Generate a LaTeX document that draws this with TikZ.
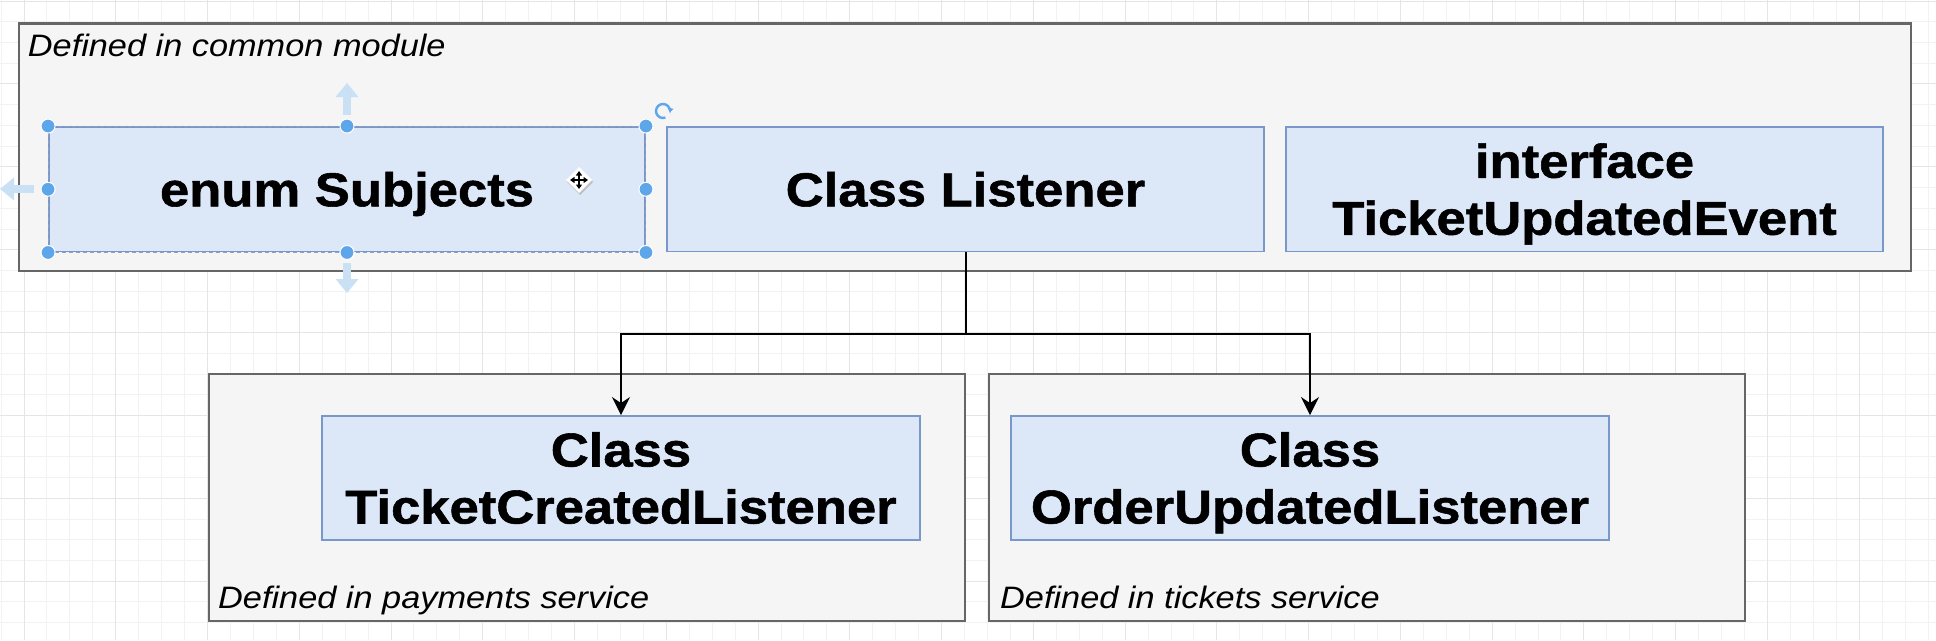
\documentclass[tikz,border=0pt]{standalone}
\usepackage{fontspec}
\newfontfamily\lab{Liberation Sans}[FakeStretch=1.107, BoldFeatures={FakeBold=1.2}]
\usetikzlibrary{arrows.meta}
\definecolor{gridminor}{HTML}{F2F2F2}
\definecolor{gridmajor}{HTML}{E5E5E5}
\definecolor{ofill}{HTML}{F5F5F5}
\definecolor{ostroke}{HTML}{666666}
\definecolor{ifill}{HTML}{DCE7F8}
\definecolor{istroke}{HTML}{7A97C9}
\definecolor{handle}{HTML}{5EA6EA}
\definecolor{hint}{HTML}{C9E0F5}
\definecolor{seldash}{HTML}{8FA0C0}
\begin{document}
\begin{tikzpicture}[x=1pt,y=-1pt,
  obox/.style={draw=ostroke, fill=ofill, line width=2.4pt, inner sep=0pt},
  ibox/.style={draw=istroke, fill=ifill, line width=1.9pt, inner sep=0pt,
    minimum height=124.5pt, minimum width=597pt, align=center,
    font=\lab\bfseries\fontsize{47.5}{57}\selectfont, text height=34pt, text depth=0pt},
  twoline/.style={text height=91pt, text depth=0pt},
  lbl/.style={anchor=base west, inner sep=0pt, font=\lab\itshape\fontsize{31}{37}\selectfont},
  conn/.style={draw=black, line width=2pt, -{Stealth[length=18pt,width=18pt,inset=6pt]}},
  hdot/.style={circle, fill=handle, draw=white, line width=1pt, minimum size=14pt, inner sep=0pt},
  hintarrow/.style={draw=hint, line width=8pt, -{Triangle[length=14pt,width=22pt]}},
  movearrow/.style={draw=black, line width=1.6pt, {Triangle[length=4.5pt,width=6pt]}-{Triangle[length=4.5pt,width=6pt]}}
]
\useasboundingbox[fill=white] (0,0) rectangle (1936,640);
% grid
\foreach \n in {0,...,84} {\draw[gridminor, line width=1pt] ({1.06+22.94*\n},0) -- ({1.06+22.94*\n},640);}
\foreach \n in {0,...,30} {\draw[gridminor, line width=1pt] (0,{1.1+20.72*\n}) -- (1936,{1.1+20.72*\n});}
\foreach \n in {0,...,20} {\draw[gridmajor, line width=1pt] ({24+91.76*\n},0) -- ({24+91.76*\n},640);}
\foreach \n in {0,...,7} {\draw[gridmajor, line width=1pt] (0,{1.1+82.88*\n}) -- (1936,{1.1+82.88*\n});}

% containers
\node[obox, minimum width=1892.3pt, minimum height=247.7pt] (common) at (964.85,147.15) {};
\node[obox, minimum width=756pt, minimum height=247pt] (pay) at (587,497.5) {};
\node[obox, minimum width=756pt, minimum height=247pt] (tick) at (1367,497.5) {};

\node[lbl] (lcommon) at (27.7,56.7) {Defined in common module};
\node[lbl] (lpay) at (218,608) {Defined in payments service};
\node[lbl] (ltick) at (1000,608) {Defined in tickets service};

% classes
\node[ibox, minimum width=596pt] (es) at (347,189.25) {enum Subjects};
\node[ibox] (cl) at (965.5,189.25) {Class Listener};
\node[ibox, twoline] (ie) at (1584.5,189.25) {interface\\TicketUpdatedEvent};
\node[ibox, twoline, minimum width=598pt, minimum height=124pt] (tcl) at (621,478) {Class\\TicketCreatedListener};
\node[ibox, twoline, minimum width=598pt, minimum height=124pt] (oul) at (1310,478) {Class\\OrderUpdatedListener};

% connectors
\draw[conn] (cl.south) -- ++(0,82) -| (tcl.north);
\draw[conn] (cl.south) -- ++(0,82) -| (oul.north);

% selection decorations on enum Subjects
\draw[seldash, line width=1pt, dash pattern=on 4pt off 3pt] (es.north west) rectangle (es.south east);
\draw[hintarrow] (347,115) -- (347,83);
\draw[hintarrow] (347,263) -- (347,293);
\draw[hintarrow] (34,189) -- (0,189);
\foreach \a in {north west,north,north east,west,east,south west,south,south east}
  {\node[hdot] at (es.\a) {};}
% rotate icon
\draw[handle, line width=2.4pt, -{Triangle[length=4pt,width=6pt]}] ([shift={(70:7)}]663,111) arc[start angle=70, end angle=370, radius=7];
% move cursor
\fill[black!25] (580,169) -- (593,182) -- (580,195) -- (567,182) -- cycle;
\fill[white] (579,167) -- (592,180) -- (579,193) -- (566,180) -- cycle;
\draw[movearrow] (570,180) -- (588,180);
\draw[movearrow] (579,171) -- (579,189);
\end{tikzpicture}
\end{document}
